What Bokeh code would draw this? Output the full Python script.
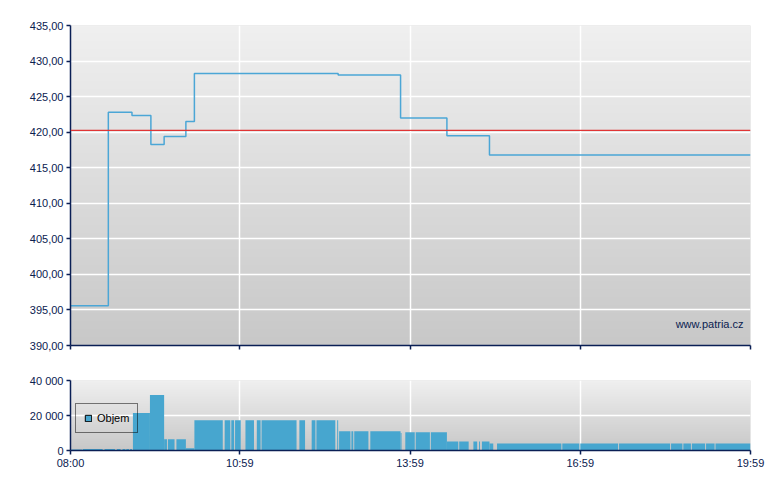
import numpy as np
from bokeh.plotting import figure
from bokeh.layouts import column
from bokeh.models import (Range1d, FixedTicker, CustomJSTickFormatter, Span, Label,
                          Legend, LegendItem)
from bokeh.embed import file_html
from bokeh.resources import INLINE

# ---------------- data ----------------
x_tick_labels = ["08:00", "10:59", "13:59", "16:59", "19:59"]

price_times = ["08:00", "08:40", "09:05", "09:25", "09:39", "10:02", "10:11",
               "12:43", "13:49", "14:38", "15:23", "19:59"]
price_values = [395.6, 422.8, 422.35, 418.25, 419.4, 421.5, 428.25,
                428.05, 422.0, 419.5, 416.8, 416.8]
reference_price = 420.25

# volume bars: start / end in minutes after 08:00, volume in pieces
vol_start = [1, 13, 36, 49, 55, 59, 63,
             66, 84, 99, 103, 112, 122, 131, 163, 170, 174, 185, 197, 202, 242,
             255, 260, 282, 284, 297, 300, 317, 349, 354, 365, 381, 398, 411,
             426, 432, 435, 443, 451, 520, 539, 580, 635, 648, 657, 672, 682]
vol_end = [12, 34, 47, 53, 58, 62, 65,
           84, 99, 102, 110, 122, 131, 161, 169, 173, 180, 194, 201, 239, 248,
           259, 280, 283, 296, 299, 315, 349, 350, 364, 380, 398, 410, 421,
           430, 433, 443, 447, 519, 538, 579, 634, 647, 656, 671, 681, 719]
vol_values = [600, 800, 800, 800, 800, 800, 800,
              21500, 31700, 6500, 6500, 6500, 1300, 17300, 17300, 17300, 17300,
              17300, 17300, 17300, 17300, 17300, 17300, 17300, 11000, 11000,
              11000, 11000, 10000, 10400, 10400, 10400, 5200, 5200, 5200, 5200,
              5200, 4000, 4000, 4000, 4000, 4000, 4000, 4000, 4000, 4000, 4000]

price_min, price_max, price_step = 390, 435, 5
vol_min, vol_max, vol_step = 0, 40000, 20000

# ---------------- helpers ----------------
def tmin(s):
    h, m = s.split(":")
    return (int(h) - 8) * 60 + int(m)

FONT = "Liberation Sans"
AXIS_COL = "#0a1f55"
TEXT_COL = "#0b2150"
LINE_COL = "#4ba6d6"
BAR_COL = "#47a6cf"

x_ticks = [tmin(t) for t in x_tick_labels]
x0, x1 = x_ticks[0], x_ticks[-1]


def gradient(n, top=240, bottom=200):
    vals = np.linspace(bottom, top, n).astype(np.uint8)
    img = np.empty((n, 1), dtype=np.uint32)
    view = img.view(dtype=np.uint8).reshape((n, 1, 4))
    view[:, 0, 0] = vals
    view[:, 0, 1] = vals
    view[:, 0, 2] = vals
    view[:, 0, 3] = 255
    return img


def style(p):
    p.outline_line_color = None
    p.border_fill_color = "white"
    p.background_fill_color = "#dcdcdc"
    for ax in (p.xaxis[0], p.yaxis[0]):
        ax.axis_line_color = AXIS_COL
        ax.axis_line_width = 1.5
        ax.major_tick_line_color = AXIS_COL
        ax.major_tick_line_width = 1.5
        ax.major_tick_out = 4
        ax.major_tick_in = 0
        ax.minor_tick_line_color = None
        ax.major_label_text_font = FONT
        ax.major_label_text_font_size = "11px"
        ax.major_label_text_color = TEXT_COL
        ax.major_label_standoff = 3
    p.xaxis.ticker = FixedTicker(ticks=x_ticks)
    p.xgrid.ticker = FixedTicker(ticks=x_ticks[1:-1])
    p.xgrid.grid_line_color = "white"
    p.xgrid.grid_line_width = 1.5
    p.ygrid.grid_line_color = "white"
    p.ygrid.grid_line_width = 1.5


# ---------------- price chart ----------------
p1 = figure(frame_width=680, frame_height=320,
            x_range=Range1d(x0, x1), y_range=Range1d(price_min, price_max),
            min_border_left=70, min_border_right=22, min_border_top=25,
            min_border_bottom=10, output_backend="svg", toolbar_location=None)
style(p1)
p1.image_rgba(image=[gradient(200)], x=x0, y=price_min, dw=x1 - x0,
              dh=price_max - price_min, level="image")
p1.yaxis.ticker = FixedTicker(ticks=list(range(price_min, price_max + 1, price_step)))
p1.yaxis.formatter = CustomJSTickFormatter(code="return tick.toFixed(2).replace('.', ',');")
p1.xaxis.major_label_overrides = {t: "" for t in x_ticks}
p1.xaxis.major_label_text_font_size = "0px"
p1.xaxis.major_label_standoff = 0

p1.step([tmin(t) for t in price_times], price_values, mode="after",
        line_color=LINE_COL, line_width=1.5)
p1.add_layout(Span(location=reference_price, dimension="width",
                   line_color="#e03535", line_width=1.2))
p1.add_layout(Label(x=x1, y=price_min, x_offset=-7, y_offset=22, text="www.patria.cz",
                    text_align="right", text_baseline="middle", text_font=FONT,
                    text_font_size="11px", text_color=TEXT_COL))

# ---------------- volume chart ----------------
p2 = figure(frame_width=680, frame_height=70,
            x_range=Range1d(x0, x1), y_range=Range1d(vol_min, vol_max),
            min_border_left=70, min_border_right=22, min_border_top=25,
            min_border_bottom=25, output_backend="svg", toolbar_location=None)
style(p2)
p2.image_rgba(image=[gradient(80)], x=x0, y=vol_min, dw=x1 - x0,
              dh=vol_max - vol_min, level="image")
p2.yaxis.ticker = FixedTicker(ticks=list(range(vol_min, vol_max + 1, vol_step)))
p2.yaxis.formatter = CustomJSTickFormatter(
    code=r"return tick.toFixed(0).replace(/\B(?=(\d{3})+(?!\d))/g, ' ');")
p2.xaxis.major_label_overrides = {t: lbl for t, lbl in zip(x_ticks, x_tick_labels)}
p2.xaxis.major_label_standoff = 2

bars = p2.quad(left=vol_start, right=vol_end, bottom=0, top=vol_values,
               fill_color=BAR_COL, line_color=None)
# legend swatch: zero-area quad (draws nothing) carrying the outlined style
swatch = p2.quad(left=[x0], right=[x0], bottom=[vol_min], top=[vol_min],
                 fill_color=BAR_COL, line_color="black", line_width=1)
legend = Legend(items=[LegendItem(label="Objem", renderers=[swatch])],
                location=(5, 17), margin=0, padding=8, spacing=0,
                glyph_width=8, glyph_height=8, label_height=12, label_standoff=5,
                label_text_font=FONT, label_text_font_size="11px",
                label_text_color="black", border_line_color="black",
                border_line_width=1, background_fill_alpha=0)
p2.add_layout(legend)

layout = column(p1, p2, spacing=0)
open("out.html", "w").write(file_html(layout, INLINE))
